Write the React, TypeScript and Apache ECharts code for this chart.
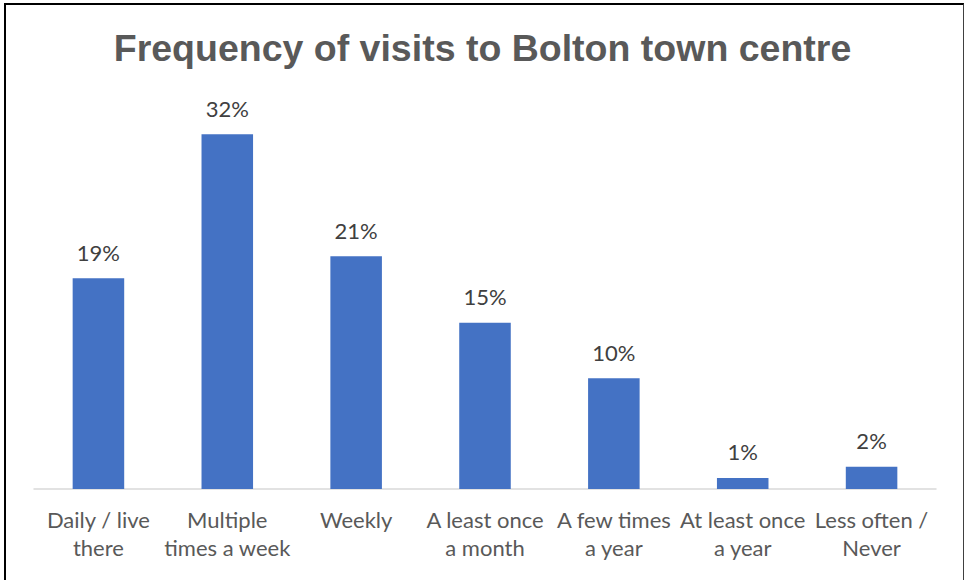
import React, { useEffect, useRef } from "react";
import * as echarts from "echarts";

const title = "Frequency of visits to Bolton town centre";
const categories = [
  "Daily / live\nthere",
  "Multiple\ntimes a week",
  "Weekly",
  "A least once\na month",
  "A few times\na year",
  "At least once\na year",
  "Less often /\nNever",
];
const values = [19, 32, 21, 15, 10, 1, 2];

export default function App() {
  const ref = useRef<HTMLDivElement>(null);
  useEffect(() => {
    document.body.style.margin = "0";
    const chart = echarts.init(ref.current!, null, { renderer: "svg" });
    chart.setOption({
      animation: false,
      backgroundColor: "#ffffff",
      title: {
        text: title,
        left: "center",
        top: 24,
        textStyle: {
          fontFamily: "Liberation Sans, Arial, sans-serif",
          fontSize: 37.5,
          fontWeight: "bold",
          color: "#595959",
        },
      },
      grid: { left: 34, right: 29, top: 101, bottom: 91 },
      xAxis: {
        type: "category",
        data: categories,
        axisLine: { show: true, lineStyle: { color: "#D9D9D9", width: 1.5 } },
        axisTick: { show: false },
        axisLabel: {
          interval: 0,
          margin: 16,
          fontFamily: "Lato, sans-serif",
          fontSize: 22,
          lineHeight: 28,
          color: "#595959",
        },
      },
      yAxis: {
        type: "value",
        min: 0,
        max: 35,
        show: false,
        splitLine: { show: false },
      },
      series: [
        {
          type: "bar",
          data: values,
          barWidth: "40%",
          itemStyle: { color: "#4472C4" },
          label: {
            show: true,
            position: "top",
            distance: 15,
            formatter: "{c}%",
            fontFamily: "Lato, sans-serif",
            fontSize: 22,
            color: "#404040",
          },
        },
      ],
    });
    return () => chart.dispose();
  }, []);
  return (
    <div style={{ position: "fixed", left: 0, top: 0, width: 965, height: 580, overflow: "hidden", background: "#fff" }}>
      <div ref={ref} style={{ position: "absolute", left: 0, top: 0, width: 965, height: 580 }} />
      <div
        style={{
          position: "absolute",
          left: 4,
          top: 3,
          width: 957,
          height: 620,
          borderLeft: "2px solid #000",
          borderTop: "2px solid #000",
          borderRight: "1px solid #404040",
          pointerEvents: "none",
        }}
      />
    </div>
  );
}
